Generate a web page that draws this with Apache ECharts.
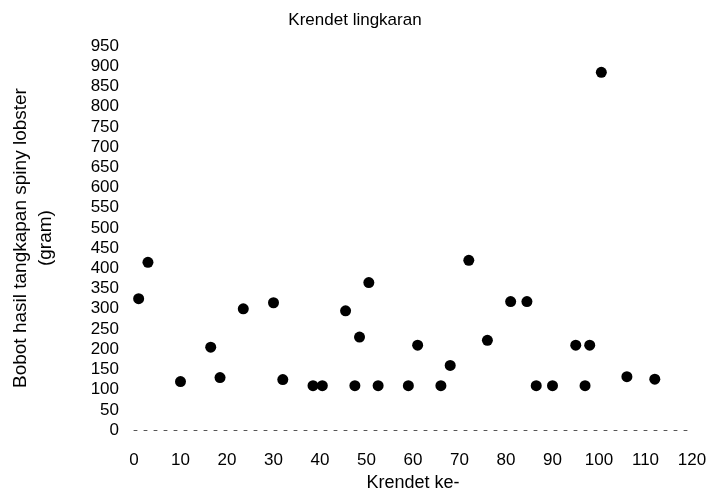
<!DOCTYPE html>
<html>
<head>
<meta charset="utf-8">
<script src="https://cdn.jsdelivr.net/npm/echarts@6/dist/echarts.min.js"></script>
<style>
  html, body { margin: 0; padding: 0; background: #fff; }
  #chart { width: 710px; height: 497px; }
</style>
</head>
<body>
<div id="chart"></div>
<script>
// Krendet ke- (x) and catch weight in grams (y)
const krendetKe = [1, 3, 10, 16.5, 18.5, 23.5, 30, 32, 38.5, 40.5, 45.5, 47.5, 48.5, 50.5, 52.5,
  59, 61, 66, 68, 72, 76, 81, 84.5, 86.5, 90, 95, 97, 98, 100.5, 106, 112]
const bobotGram = [325, 415, 120, 205, 130, 300, 315, 125, 110, 110, 295, 110, 230, 365, 110,
  110, 210, 110, 160, 420, 222, 318, 318, 110, 110, 210, 110, 210, 885, 132, 126]

const xTicks = { min: 0, max: 120, step: 10 }
const yTicks = { min: 0, max: 950, step: 50 }

const font = '"Liberation Sans", Arial, sans-serif'
const chart = echarts.init(document.getElementById('chart'), null, { renderer: 'canvas' })

chart.setOption({
  animation: false,
  backgroundColor: '#fff',
  title: {
    text: 'Krendet lingkaran',
    left: 'center',
    top: 7,
    textStyle: { fontFamily: font, fontSize: 17, fontWeight: 'normal', color: '#000' },
  },
  grid: { left: 133, right: 18, top: 46, bottom: 65, containLabel: false },
  xAxis: {
    type: 'value',
    min: xTicks.min,
    max: xTicks.max,
    interval: xTicks.step,
    name: 'Krendet ke-',
    nameLocation: 'middle',
    nameGap: 39,
    nameTextStyle: { fontFamily: font, fontSize: 18, color: '#000' },
    axisLine: { show: true, lineStyle: { color: '#555', width: 1, type: [3, 7] } },
    axisTick: { show: false },
    splitLine: { show: false },
    axisLabel: { fontFamily: font, fontSize: 17, color: '#000', margin: 22 },
  },
  yAxis: {
    type: 'value',
    min: yTicks.min,
    max: yTicks.max,
    interval: yTicks.step,
    name: 'Bobot hasil tangkapan spiny lobster\n(gram)',
    nameLocation: 'middle',
    nameGap: 76,
    nameTextStyle: { fontFamily: font, fontSize: 19, color: '#000', lineHeight: 25, align: 'center' },
    axisLine: { show: false },
    axisTick: { show: false },
    splitLine: { show: false },
    axisLabel: { fontFamily: font, fontSize: 17, color: '#000', margin: 15 },
  },
  series: [{
    type: 'scatter',
    symbol: 'circle',
    symbolSize: 11,
    itemStyle: { color: '#000', opacity: 1 },
    data: krendetKe.map((x, i) => [x, bobotGram[i]]),
  }],
})
</script>
</body>
</html>
